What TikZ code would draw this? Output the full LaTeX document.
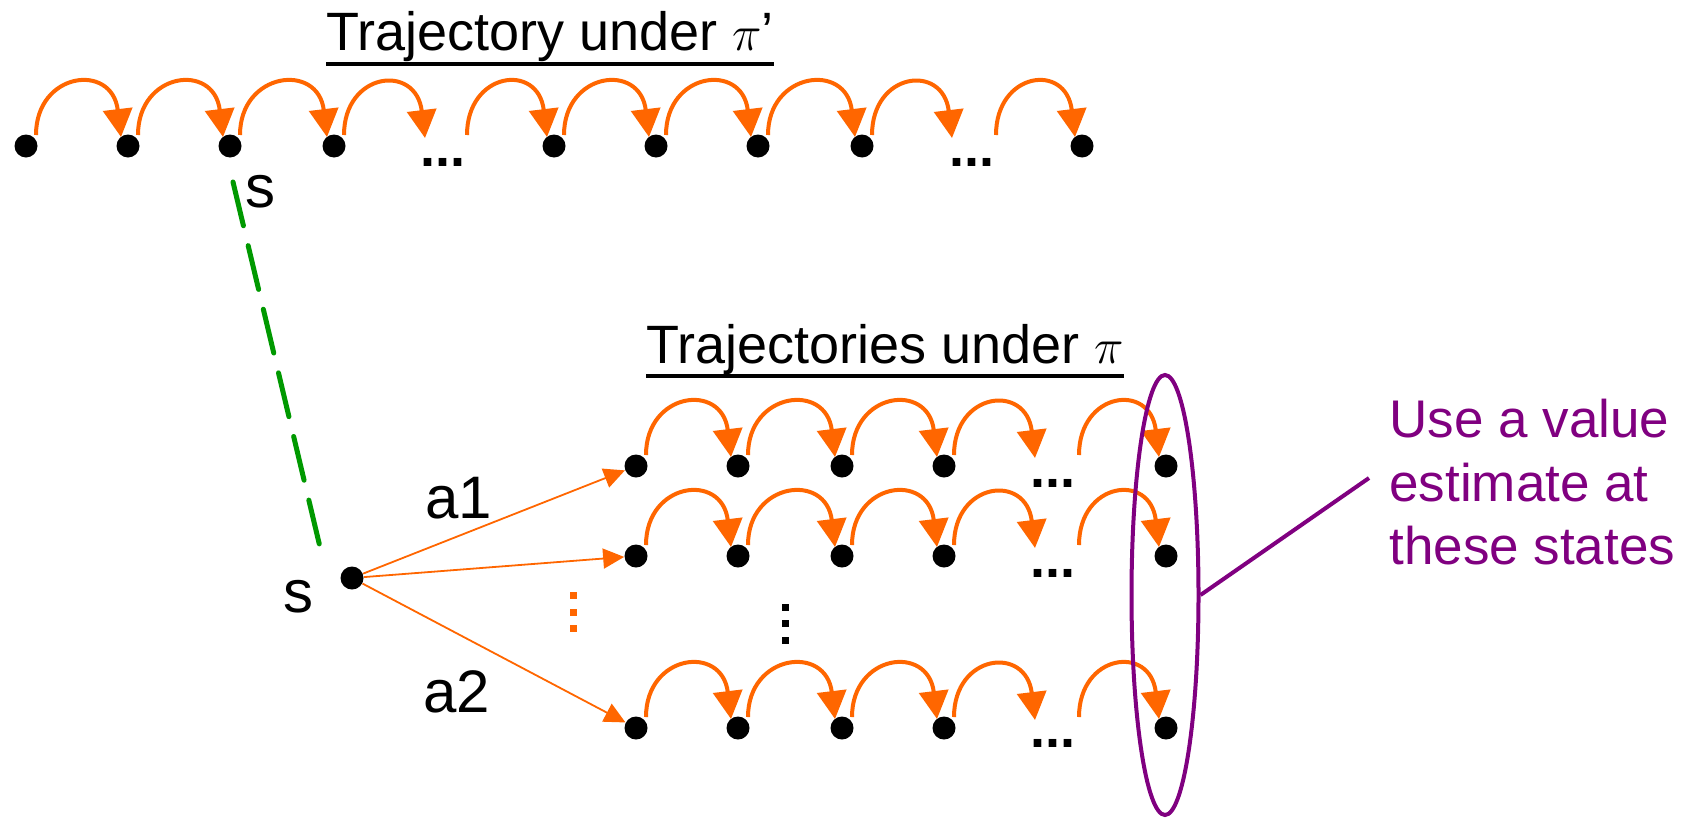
\documentclass[tikz,border=0pt]{standalone}
\usepackage{fontspec}
\setmainfont{Liberation Sans}
\usetikzlibrary{arrows.meta,shapes.geometric}
\definecolor{myorange}{RGB}{255,102,0}
\definecolor{mygreen}{RGB}{0,153,0}
\definecolor{mypurple}{RGB}{128,0,128}
\newcommand\hopto[2]{\draw[hop] ([shift={(10,-11)}]#1.center) .. controls +(0,-63) and +(-9,-75) .. ([shift={(-7,-9)}]#2.center);}
\begin{document}
\begin{tikzpicture}[x=0.5pt,y=-0.5pt,
  dot/.style={circle,fill=black,inner sep=0pt,minimum size=11.5pt},
  hop/.style={draw=myorange,line width=2pt,-{Triangle[length=14pt,width=14.5pt]}},
  act/.style={draw=myorange,line width=0.9pt,-{Triangle[length=10.5pt,width=10pt]}},
  lbl/.style={font=\fontsize{30pt}{36pt}\selectfont,inner sep=0pt,anchor=base west},
  ttl/.style={font=\fontsize{27pt}{32pt}\selectfont,inner sep=0pt,anchor=base west},
  ellip/.style={font=\fontsize{27pt}{32pt}\selectfont\bfseries,inner sep=0pt,anchor=base},
  vdot/.style={rectangle,fill=#1,inner sep=0pt,minimum size=3.5pt}
]
\useasboundingbox (0,0) rectangle (1684,819);

% titles
\node[ttl] (tA) at (326,50) {Trajectory under $\pi$’};
\draw[line width=2pt] ([yshift=-7pt]tA.base west) -- ([yshift=-7pt]tA.base east);
\node[ttl] (tB) at (646,363) {Trajectories under $\pi$};
\draw[line width=2pt] ([yshift=-6.5pt]tB.base west) -- ([yshift=-6.5pt]tB.base east);

% top row
\foreach \n/\x in {1/26,2/128,3/230,4/334,5/554,6/656,7/758,8/862,9/1082}
  \node[dot] (t\n) at (\x,146) {};
\coordinate (tg1) at (432,147);
\coordinate (tg2) at (457,146);
\coordinate (tg3) at (959,147);
\coordinate (tg4) at (986,146);
\hopto{t1}{t2}\hopto{t2}{t3}\hopto{t3}{t4}\hopto{t4}{tg1}\hopto{tg2}{t5}
\hopto{t5}{t6}\hopto{t6}{t7}\hopto{t7}{t8}\hopto{t8}{tg3}\hopto{tg4}{t9}
\node[ellip] (te1) at (443,166) {...};
\node[ellip] (te2) at (972,166) {...};

% three rows under pi
\foreach \r/\y/\ey in {1/466/487,2/556/577,3/728/747}{
  \foreach \n/\x in {1/636,2/738,3/842,4/944,5/1166}
    \node[dot] (r\r\n) at (\x,\y) {};
  \coordinate (rg\r a) at (1042,\y+1);
  \coordinate (rg\r b) at (1069,\y);
  \hopto{r\r1}{r\r2}\hopto{r\r2}{r\r3}\hopto{r\r3}{r\r4}\hopto{r\r4}{rg\r a}\hopto{rg\r b}{r\r5}
  \node[ellip] (re\r) at (1053,\ey) {...};
}

% source state
\node[dot] (src) at (352,578) {};
\draw[act] (src) -- (r11);
\draw[act] (src) -- (r21);
\draw[act] (src) -- (r31);

% labels
\node[lbl] (s1) at (245,207) {s};
\node[lbl] (s2) at (283,612) {s};
\node[lbl] (a1) at (425,518) {a1};
\node[lbl] (a2) at (423,712) {a2};

% green dashed link
\coordinate (g1) at (233,182);
\coordinate (g2) at (320,547);
\draw[mygreen,line width=2.5pt,line cap=round,dash pattern=on 22.5pt off 10.2pt] (g1) -- (g2);

% vertical ellipses (dots)
\foreach \y [count=\i] in {595,612,628} \node[vdot=myorange] (vo\i) at (573,\y) {};
\foreach \y [count=\i] in {607,623,640} \node[vdot=black] (vb\i) at (785,\y) {};

% purple ellipse and note
\node[draw=mypurple,line width=2pt,ellipse,minimum width=33.5pt,minimum height=220pt,inner sep=0pt] (oval) at (1165,595) {};
\coordinate (pl) at (1369,478);
\draw[mypurple,line width=2pt] (oval.east) -- (pl);
\node[font=\fontsize{26.5pt}{31.75pt}\selectfont,text=mypurple,align=left,inner sep=0pt,anchor=north west] (note) at (1389,399) {Use a value\\estimate at\\these states};
\end{tikzpicture}
\end{document}
